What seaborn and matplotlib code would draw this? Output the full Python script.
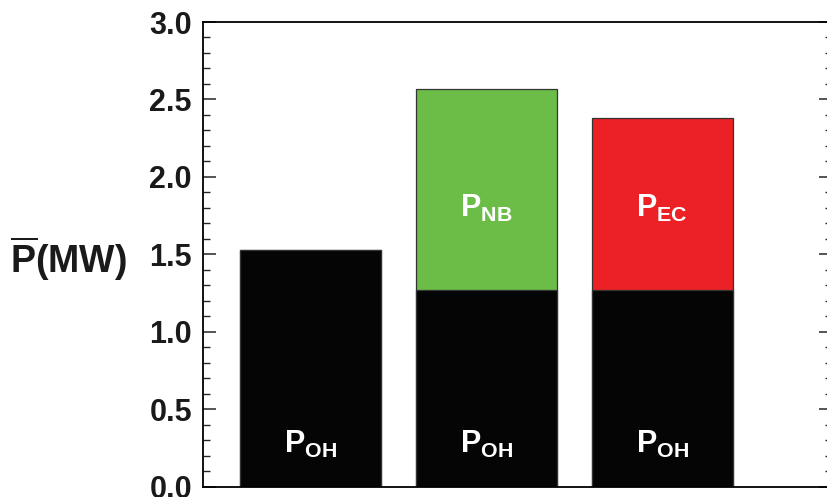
import matplotlib
matplotlib.use("Agg")
import matplotlib.pyplot as plt
import seaborn as sns
import pandas as pd
from matplotlib.ticker import MultipleLocator

# ---- data ----
cases = ["OH only", "OH + NB", "OH + EC"]
p_oh = [1.53, 1.27, 1.27]
p_total = [1.53, 2.57, 2.38]
oh_labels = [r"$\mathregular{P_{OH}}$"] * 3
aux_labels = ["", r"$\mathregular{P_{NB}}$", r"$\mathregular{P_{EC}}$"]
y_ticks = [0.0, 0.5, 1.0, 1.5, 2.0, 2.5, 3.0]

# ---- style ----
sns.set_theme(style="white")
FONT = ["Liberation Sans", "DejaVu Sans"]
plt.rcParams["font.family"] = FONT

BLACK = "#050505"
GREEN = "#6bbd47"
RED = "#ec2125"

df_total = pd.DataFrame({"case": cases, "power": p_total})
df_oh = pd.DataFrame({"case": cases, "power": p_oh})

fig = plt.figure(figsize=(8.27, 4.97), dpi=100)
ax = fig.add_axes([203 / 827, 10.5 / 497, 629 / 827, 464.5 / 497])

sns.barplot(data=df_total, x="case", y="power", hue="case",
            palette=[BLACK, GREEN, RED], legend=False, width=0.8,
            edgecolor="#333333", linewidth=0.9, saturation=1, ax=ax)
sns.barplot(data=df_oh, x="case", y="power", hue="case",
            palette=[BLACK, BLACK, BLACK], legend=False, width=0.8,
            edgecolor="#333333", linewidth=0.9, saturation=1, ax=ax)

ax.set_xlim(-0.61, 2.965)
ax.set_ylim(0, 3.0)
ax.set_xticks([])
ax.set_xlabel("")
ax.set_yticks(y_ticks)
ax.set_yticklabels([f"{v:.1f}" for v in y_ticks])
ax.yaxis.set_minor_locator(MultipleLocator(0.1))
ax.tick_params(axis="y", which="major", direction="in", length=9.5, width=1.1,
               left=True, right=True, pad=8, labelsize=22)
ax.tick_params(axis="y", which="minor", direction="in", length=5, width=1.0,
               left=True, right=True)
for lab in ax.get_yticklabels():
    lab.set_fontweight("bold")
    lab.set_color("#1a1a1a")

for s in ax.spines.values():
    s.set_visible(True)
    s.set_color("black")
    s.set_linewidth(1.3)

ax.set_ylabel(r"$\overline{\mathregular{P}}$(MW)", rotation=0, fontsize=27,
              fontweight="bold", color="#1a1a1a", ha="right", va="center")
ax.yaxis.set_label_coords(-0.121, 0.49)

for i, lab in enumerate(oh_labels):
    ax.text(i, 0.216, lab, color="white", fontsize=22, ha="center",
            va="baseline", fontweight="bold")
for i, lab in enumerate(aux_labels):
    if lab:
        ax.text(i, 1.741, lab, color="white", fontsize=22, ha="center",
                va="baseline", fontweight="bold")

fig.savefig("out.png", dpi=100)
